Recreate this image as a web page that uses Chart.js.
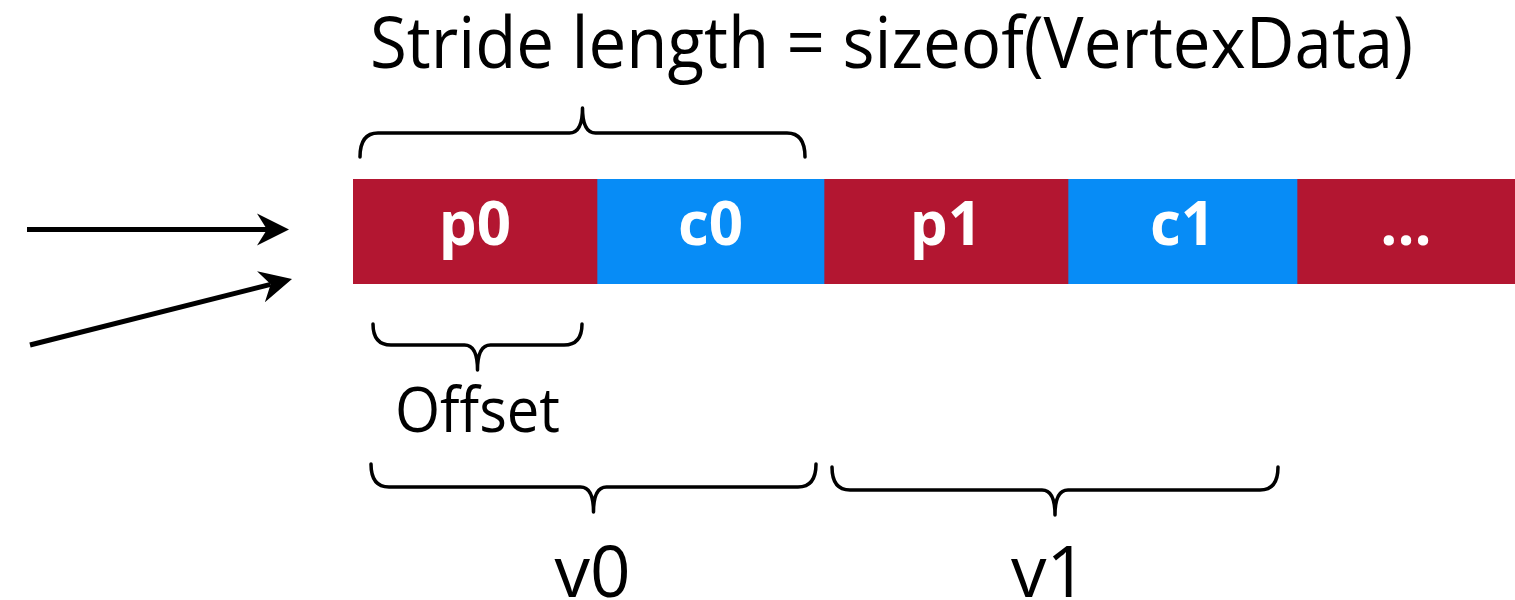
<!DOCTYPE html>
<html>
<head>
<meta charset="utf-8">
<script src="https://cdn.jsdelivr.net/npm/chart.js@4.4.1/dist/chart.umd.min.js"></script>
<style>
  html, body { margin: 0; padding: 0; background: #ffffff; }
  #wrap { width: 1515px; height: 600px; }
</style>
</head>
<body>
<div id="wrap"><canvas id="c" width="1515" height="600"></canvas></div>
<script>
// ---- data ----
const categories = ['buffer'];
const segmentLabels = ['p0', 'c0', 'p1', 'c1', '...'];
const segmentSizes = [244, 227, 244, 229, 218];
const segmentKinds = ['position', 'color', 'position', 'color', 'position'];
const titleText = 'Stride length = sizeof(VertexData)';
// brace spans in buffer units: [start, end, label]
const braceStarts = [7, 20, 18, 479];
const braceEnds = [452, 229, 463, 925];
const braceLabels = ['', 'Offset', 'v0', 'v1'];

// ---- styles ----
const RED = '#B31631';
const BLUE = '#078CF6';
const kindColor = { position: RED, color: BLUE };

const datasets = segmentLabels.map((lab, i) => ({
  label: lab,
  data: [segmentSizes[i]],
  backgroundColor: kindColor[segmentKinds[i]],
  borderWidth: 0,
  barPercentage: 1.0,
  categoryPercentage: 1.0
}));

function brace(ctx, x1, x2, yTip, yLine, yPoint, r, r2) {
  const xc = (x1 + x2) / 2;
  const dir = Math.sign(yLine - yTip);
  ctx.beginPath();
  ctx.moveTo(x1, yTip);
  ctx.quadraticCurveTo(x1, yLine, x1 + r, yLine);
  ctx.lineTo(xc - r2, yLine);
  ctx.quadraticCurveTo(xc, yLine, xc, yPoint);
  ctx.quadraticCurveTo(xc, yLine, xc + r2, yLine);
  ctx.lineTo(x2 - r, yLine);
  ctx.quadraticCurveTo(x2, yLine, x2, yTip);
  ctx.stroke();
}

function arrow(ctx, x0, y0, x1, y1) {
  const ang = Math.atan2(y1 - y0, x1 - x0);
  const L = 32, W = 16, N = 22;
  const ca = Math.cos(ang), sa = Math.sin(ang);
  ctx.beginPath();
  ctx.moveTo(x0, y0);
  ctx.lineTo(x1 - ca * N, y1 - sa * N);
  ctx.lineWidth = 5;
  ctx.lineCap = 'butt';
  ctx.stroke();
  ctx.beginPath();
  ctx.moveTo(x1, y1);
  ctx.lineTo(x1 - ca * L - sa * W, y1 - sa * L + ca * W);
  ctx.lineTo(x1 - ca * N, y1 - sa * N);
  ctx.lineTo(x1 - ca * L + sa * W, y1 - sa * L - ca * W);
  ctx.closePath();
  ctx.fill();
}

const annotate = {
  id: 'annotate',
  afterDatasetsDraw(chart) {
    const ctx = chart.ctx;
    const xs = chart.scales.x;
    const area = chart.chartArea;
    ctx.save();
    // segment labels
    ctx.fillStyle = '#ffffff';
    ctx.font = 'bold 60px "Open Sans"';
    ctx.textAlign = 'center';
    ctx.textBaseline = 'alphabetic';
    let acc = 0;
    segmentSizes.forEach((s, i) => {
      const cx = xs.getPixelForValue(acc + s / 2);
      ctx.fillText(segmentLabels[i], cx, area.top + 66);
      acc += s;
    });

    // braces
    ctx.strokeStyle = '#000000';
    ctx.fillStyle = '#000000';
    ctx.lineWidth = 3.5;
    ctx.lineCap = 'round';
    ctx.lineJoin = 'round';
    const bTop = area.top, bBot = area.bottom;
    const bx = (i) => [xs.getPixelForValue(braceStarts[i]), xs.getPixelForValue(braceEnds[i])];
    let p = bx(0); brace(ctx, p[0], p[1], bTop - 22, bTop - 46, bTop - 71, 18, 13);
    p = bx(1); brace(ctx, p[0], p[1], bBot + 40, bBot + 61, bBot + 86, 18, 13);
    p = bx(2); brace(ctx, p[0], p[1], bBot + 180, bBot + 203, bBot + 228, 18, 13);
    p = bx(3); brace(ctx, p[0], p[1], bBot + 183, bBot + 206, bBot + 231, 18, 13);

    // arrows pointing at the buffer
    const L0 = area.left;
    const midY = (area.top + area.bottom) / 2;
    arrow(ctx, L0 - 326, midY - 2, L0 - 64, midY - 2);
    arrow(ctx, L0 - 323, bBot + 61, L0 - 61, bBot - 5);

    // texts
    ctx.fillStyle = '#000000';
    ctx.textAlign = 'left';
    ctx.font = '72px "Open Sans"';
    ctx.fillText(titleText, 370, 68, 1043);
    ctx.font = '63px "Open Sans"';
    const oc = (bx(1)[0] + bx(1)[1]) / 2;
    ctx.textAlign = 'center';
    ctx.fillText(braceLabels[1], oc, bBot + 148, 165);
    ctx.font = '71px "Open Sans"';
    let c2 = (bx(2)[0] + bx(2)[1]) / 2;
    ctx.fillText(braceLabels[2], c2 - 1, bBot + 313);
    let c3 = (bx(3)[0] + bx(3)[1]) / 2;
    ctx.fillText(braceLabels[3], c3 - 6, bBot + 313);
    ctx.restore();
  }
};

new Chart(document.getElementById('c'), {
  type: 'bar',
  data: { labels: categories, datasets },
  options: {
    indexAxis: 'y',
    responsive: false,
    animation: false,
    layout: { padding: { left: 353, right: 0, top: 179, bottom: 316 } },
    scales: {
      x: { stacked: true, display: false, min: 0, max: segmentSizes.reduce((a, b) => a + b, 0) },
      y: { stacked: true, display: false }
    },
    plugins: {
      legend: { display: false },
      tooltip: { enabled: false },
      title: { display: false }
    }
  },
  plugins: [annotate]
});
</script>
</body>
</html>
